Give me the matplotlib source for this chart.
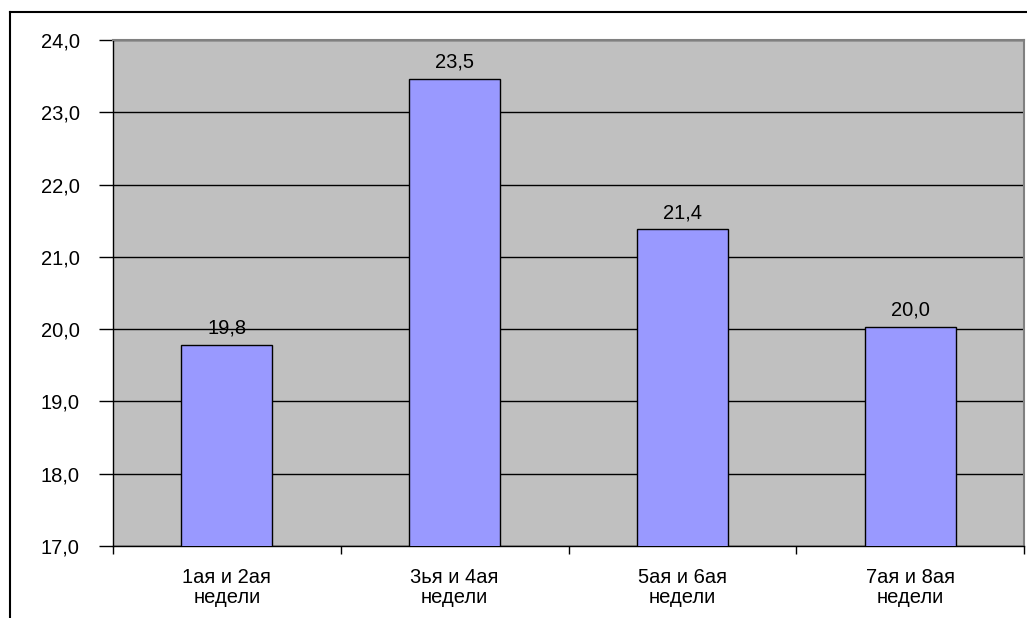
import matplotlib
matplotlib.use("Agg")
import matplotlib.pyplot as plt
from matplotlib.lines import Line2D
import numpy as np

categories = ["1ая и 2ая\nнедели", "3ья и 4ая\nнедели", "5ая и 6ая\nнедели", "7ая и 8ая\nнедели"]
values = [19.78, 23.46, 21.38, 20.03]
labels = ["19,8", "23,5", "21,4", "20,0"]
yticks = [17, 18, 19, 20, 21, 22, 23, 24]

plt.rcParams['font.family'] = ['Liberation Sans', 'DejaVu Sans']
fs = 14.5

fig = plt.figure(figsize=(10.27, 6.18), dpi=100)
ax = fig.add_axes([113 / 1027, 72 / 618, 911 / 1027, 506 / 618])
ax.set_facecolor("#C0C0C0")

x = np.arange(len(categories))
ax.bar(x, values, width=0.4, bottom=0, color="#9999FF", edgecolor="black", linewidth=1, zorder=3)

for xi, v, lab in zip(x, values, labels):
    ax.text(xi, v + 0.1, lab, ha="center", va="bottom", fontsize=fs, zorder=4)

ax.set_ylim(17, 24)
ax.set_xlim(-0.5, len(categories) - 0.5)
ax.set_yticks(yticks)
ax.set_yticklabels([("%.1f" % t).replace(".", ",") for t in yticks], fontsize=fs)
ax.yaxis.grid(True, color="black", linewidth=1, zorder=1)
ax.set_axisbelow(True)

ax.set_xticks(x)
ax.set_xticklabels(categories, fontsize=fs, linespacing=1.05)
ax.tick_params(axis="x", length=0, pad=16)
ax.set_xticks(np.arange(len(categories) + 1) - 0.5, minor=True)
ax.tick_params(axis="x", which="minor", length=6, width=1, direction="out")
ax.tick_params(axis="y", length=10, width=1, direction="out", pad=14)

for s in ["top", "right"]:
    ax.spines[s].set_color("#808080")
    ax.spines[s].set_linewidth(1.5)
for s in ["left", "bottom"]:
    ax.spines[s].set_color("black")
    ax.spines[s].set_linewidth(1)

# outer chart frame (cropped at right and bottom)
fig.add_artist(Line2D([10 / 1027, 10 / 1027], [0, 1 - 12 / 618], color="black", linewidth=1.5, transform=fig.transFigure))
fig.add_artist(Line2D([10 / 1027, 1], [1 - 12 / 618, 1 - 12 / 618], color="black", linewidth=1.5, transform=fig.transFigure))

fig.savefig("out.png", dpi=100, facecolor="white")
